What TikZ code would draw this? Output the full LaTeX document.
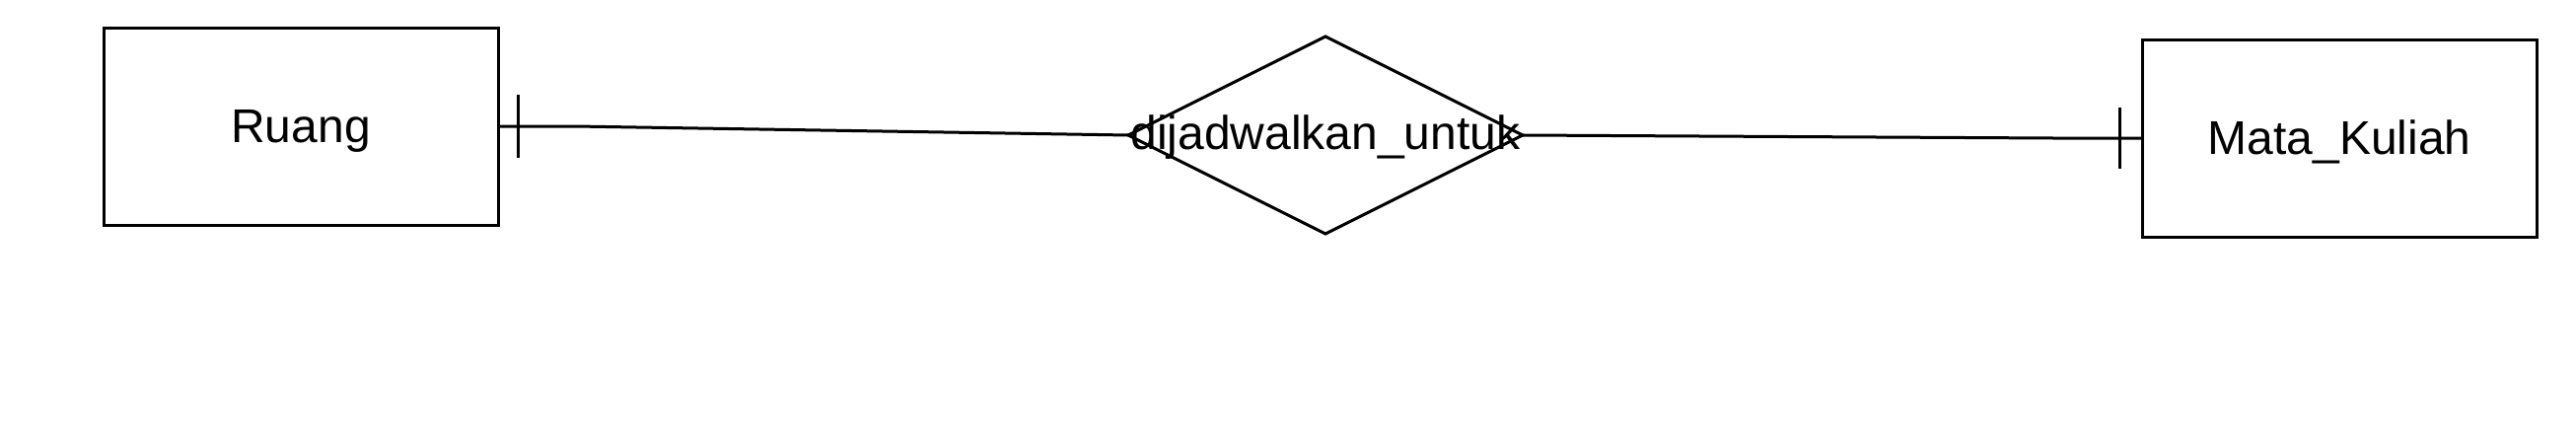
\documentclass[tikz,border=0pt]{standalone}
\usepackage{fontspec}
\setmainfont{Liberation Sans}
\usetikzlibrary{shapes.geometric}
\begin{document}
\begin{tikzpicture}[x=1pt,y=-1pt,line width=3pt,
  entity/.style={draw,rectangle,minimum width=400pt,minimum height=200pt,inner sep=0pt,outer sep=0pt,font=\fontsize{48}{58}\selectfont,text height=42pt,text depth=10pt},
  rel/.style={draw,diamond,aspect=2,minimum width=400pt,minimum height=200pt,inner sep=0pt,outer sep=0pt},
  lbl/.style={font=\fontsize{48}{58}\selectfont,inner sep=0pt},
  conn/.style={line width=3pt,line join=round}]
\useasboundingbox[fill=white] (0,0) rectangle (2612,447);
\node[entity] (ruang) at (305,128) {Ruang};
\node[entity] (mk) at (2372,140) {Mata\_Kuliah};
\node[rel] (dj) at (1344,137) {};
\node[lbl] (djt) at (1344,139) {dijadwalkan\_untuk};
\coordinate (b1) at (583,128);
\coordinate (b2) at (2082,140);
\draw[conn] (ruang.east) -- (b1) -- (dj.west);
\draw[conn] (dj.east) -- (b2) -- (mk.west);
\draw ([xshift=20pt,yshift=32pt]ruang.east) -- ([xshift=20pt,yshift=-32pt]ruang.east);
\draw ([xshift=-23pt,yshift=31pt]mk.west) -- ([xshift=-23pt,yshift=-31pt]mk.west);
\end{tikzpicture}
\end{document}
